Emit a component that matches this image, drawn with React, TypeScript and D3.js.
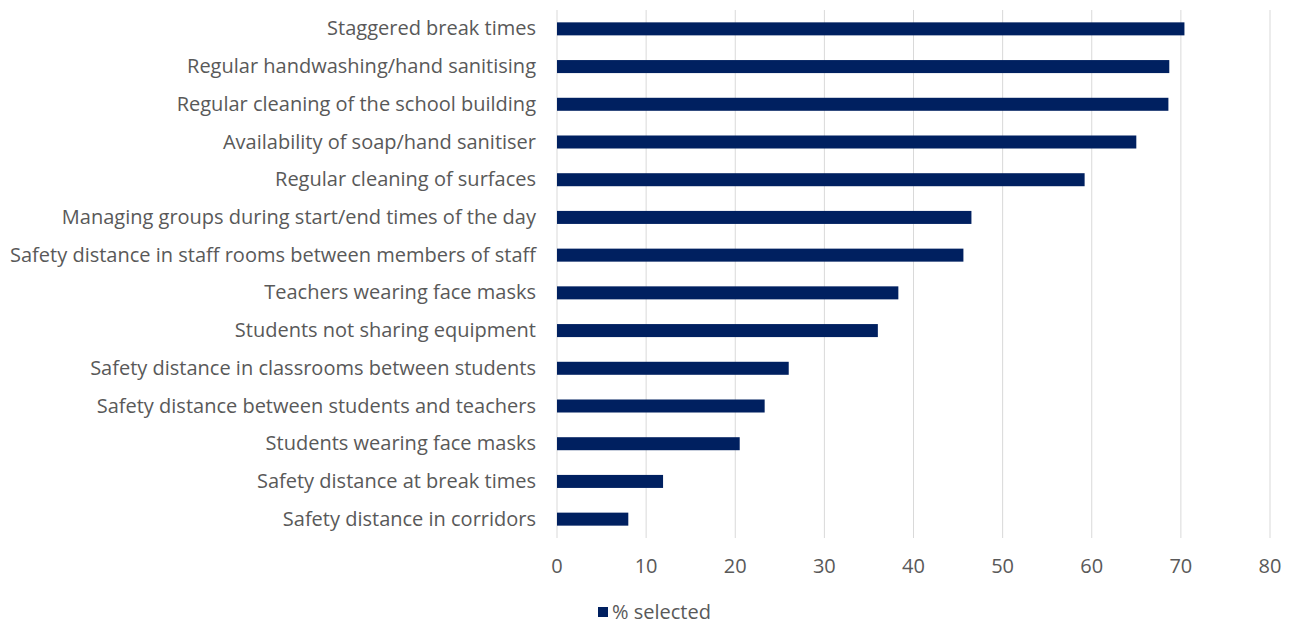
import React from "react";
import * as d3 from "d3";

const categories = [
  "Staggered break times",
  "Regular handwashing/hand sanitising",
  "Regular cleaning of the school building",
  "Availability of soap/hand sanitiser",
  "Regular cleaning of surfaces",
  "Managing groups during start/end times of the day",
  "Safety distance in staff rooms between members of staff",
  "Teachers wearing face masks",
  "Students not sharing equipment",
  "Safety distance in classrooms between students",
  "Safety distance between students and teachers",
  "Students wearing face masks",
  "Safety distance at break times",
  "Safety distance in corridors",
];
const values = [70.4, 68.7, 68.6, 65.0, 59.2, 46.5, 45.6, 38.3, 36.0, 26.0, 23.3, 20.5, 11.9, 8.0];
const ticks = [0, 10, 20, 30, 40, 50, 60, 70, 80];
const seriesName = "% selected";

const W = 1295;
const H = 624;
const FONT = "'Open Sans', sans-serif";
const BAR = "#002060";
const TXT = "#595959";
const FS = 20;

export default function App() {
  const x = d3.scaleLinear().domain([0, 80]).range([557, 1270]);
  const y = d3
    .scaleBand<string>()
    .domain(categories)
    .range([10, 538])
    .paddingInner(0.655)
    .paddingOuter(0.3275);
  return (
    <svg width={W} height={H} style={{ position: "absolute", left: 0, top: 0, background: "#fff" }}>
      {ticks.map((t) => (
        <line key={t} x1={x(t)} x2={x(t)} y1={10} y2={538} stroke="#d9d9d9" strokeWidth={1} />
      ))}
      {categories.map((c, i) => (
        <rect key={c} x={x(0)} y={y(c)} width={x(values[i]) - x(0)} height={y.bandwidth()} fill={BAR} />
      ))}
      {categories.map((c) => (
        <text
          key={c}
          x={536}
          y={(y(c) as number) + y.bandwidth() / 2 - 1}
          textAnchor="end"
          dominantBaseline="central"
          fontFamily={FONT}
          fontSize={FS}
          fill={TXT}
        >
          {c}
        </text>
      ))}
      {ticks.map((t) => (
        <text
          key={t}
          x={x(t)}
          y={565}
          textAnchor="middle"
          dominantBaseline="central"
          fontFamily={FONT}
          fontSize={FS}
          fill={TXT}
        >
          {t}
        </text>
      ))}
      <rect x={598} y={607} width={10} height={10} fill={BAR} />
      <text x={612} y={611} dominantBaseline="central" fontFamily={FONT} fontSize={FS} fill={TXT}>
        {seriesName}
      </text>
    </svg>
  );
}
